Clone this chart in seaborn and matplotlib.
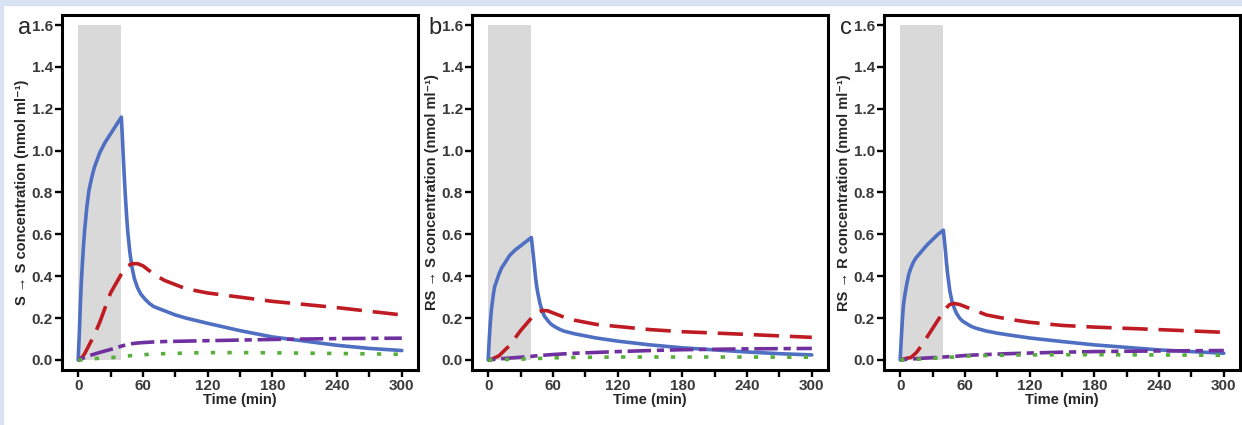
import numpy as np
import pandas as pd
import matplotlib
matplotlib.use("Agg")
import matplotlib.pyplot as plt
import seaborn as sns
from matplotlib.patches import Rectangle

# --- dane ---
# gęstsza siatka czasu dla krzywej niebieskiej (ostry szczyt w 40 min)
czas_gesty = [0, 0.5, 1, 1.5, 2, 3, 4, 5, 6, 8, 10, 12.5, 15, 20, 25, 30, 35, 40, 41, 42, 43, 44, 45,
              46, 48, 50, 52, 55, 58, 62, 66, 70, 80, 90, 100, 120, 150, 180, 210, 240, 270, 300]
czas = [0, 1, 2, 4, 6, 10, 15, 20, 30, 40, 43, 46, 50, 55, 60, 70, 80, 100, 120, 150, 180, 240, 300]

# panel a: S -> S
a_niebieska = [0, 0.06, 0.12, 0.19, 0.26, 0.38, 0.47, 0.55, 0.62, 0.73, 0.81, 0.87, 0.92, 0.99, 1.04,
               1.08, 1.12, 1.16, 1.06, 0.95, 0.85, 0.76, 0.68, 0.61, 0.51, 0.44, 0.39, 0.345, 0.315,
               0.29, 0.27, 0.255, 0.235, 0.215, 0.20, 0.175, 0.14, 0.11, 0.09, 0.07, 0.055, 0.045]
a_czerwona = [0, 0, 0.005, 0.015, 0.03, 0.07, 0.12, 0.18, 0.32, 0.41, 0.43, 0.45, 0.46, 0.46, 0.45,
              0.41, 0.38, 0.34, 0.32, 0.30, 0.28, 0.25, 0.215]
a_fioletowa = [0, 0.001, 0.003, 0.008, 0.012, 0.02, 0.028, 0.036, 0.05, 0.066, 0.07, 0.074, 0.078,
               0.081, 0.083, 0.086, 0.088, 0.09, 0.092, 0.095, 0.098, 0.102, 0.104]
a_zielona = [0, 0, 0, 0.001, 0.002, 0.004, 0.006, 0.008, 0.011, 0.015, 0.017, 0.019, 0.021, 0.023,
             0.025, 0.028, 0.03, 0.033, 0.035, 0.035, 0.034, 0.031, 0.027]

# panel b: RS -> S
b_niebieska = [0, 0.05, 0.1, 0.14, 0.18, 0.24, 0.28, 0.32, 0.35, 0.38, 0.41, 0.44, 0.46, 0.50, 0.525,
               0.545, 0.565, 0.585, 0.54, 0.49, 0.44, 0.39, 0.35, 0.32, 0.27, 0.235, 0.21, 0.19, 0.172,
               0.158, 0.147, 0.138, 0.125, 0.115, 0.105, 0.09, 0.072, 0.058, 0.048, 0.038, 0.03, 0.024]
b_czerwona = [0, 0, 0.002, 0.005, 0.01, 0.02, 0.045, 0.07, 0.14, 0.2, 0.215, 0.228, 0.236, 0.235, 0.225,
              0.205, 0.19, 0.17, 0.16, 0.145, 0.135, 0.122, 0.108]
b_fioletowa = [0, 0, 0.001, 0.002, 0.003, 0.005, 0.007, 0.009, 0.013, 0.017, 0.019, 0.02, 0.022, 0.024,
               0.026, 0.029, 0.032, 0.036, 0.04, 0.045, 0.049, 0.053, 0.055]
b_zielona = [0, 0, 0, 0, 0.001, 0.001, 0.002, 0.003, 0.004, 0.005, 0.006, 0.007, 0.008, 0.009, 0.01,
             0.011, 0.012, 0.013, 0.014, 0.014, 0.014, 0.014, 0.013]

# panel c: RS -> R
c_niebieska = [0, 0.05, 0.1, 0.145, 0.19, 0.26, 0.3, 0.33, 0.36, 0.41, 0.44, 0.47, 0.49, 0.52, 0.55,
               0.575, 0.6, 0.62, 0.57, 0.52, 0.46, 0.41, 0.37, 0.33, 0.28, 0.25, 0.225, 0.2, 0.185,
               0.172, 0.16, 0.152, 0.138, 0.128, 0.12, 0.105, 0.088, 0.072, 0.06, 0.048, 0.04, 0.032]
c_czerwona = [0, 0, 0.002, 0.005, 0.008, 0.012, 0.035, 0.07, 0.15, 0.23, 0.25, 0.265, 0.27, 0.265, 0.255,
              0.235, 0.215, 0.195, 0.18, 0.165, 0.157, 0.145, 0.132]
c_fioletowa = [0, 0, 0.001, 0.002, 0.003, 0.004, 0.006, 0.008, 0.011, 0.014, 0.015, 0.016, 0.017, 0.019,
               0.021, 0.024, 0.026, 0.03, 0.033, 0.037, 0.04, 0.043, 0.045]
c_zielona = [0, 0, 0, 0, 0.001, 0.002, 0.003, 0.005, 0.008, 0.011, 0.012, 0.013, 0.014, 0.016, 0.018,
             0.02, 0.021, 0.023, 0.024, 0.025, 0.025, 0.024, 0.022]

litery = ["a", "b", "c"]
etykiety_y = ["S → S concentration (nmol ml⁻¹)",
              "RS → S concentration (nmol ml⁻¹)",
              "RS → R concentration (nmol ml⁻¹)"]
panele = [
    [a_niebieska, a_czerwona, a_fioletowa, a_zielona],
    [b_niebieska, b_czerwona, b_fioletowa, b_zielona],
    [c_niebieska, c_czerwona, c_fioletowa, c_zielona],
]
serie = ["niebieska", "czerwona", "fioletowa", "zielona"]

# okres wlewu (szary prostokąt)
wlew_start, wlew_koniec, wlew_gora = 0, 40, 1.6

kolory = {"niebieska": "#4E6FC2", "czerwona": "#BF1B22", "fioletowa": "#7030A0", "zielona": "#57AE3B"}
kreski = {"niebieska": "", "czerwona": (7, 3), "fioletowa": (2, 1.6, 6.5, 1.6), "zielona": (1.2, 3.4)}

sns.set_style("ticks")
plt.rcParams["font.family"] = ["Liberation Sans", "DejaVu Sans"]

fig = plt.figure(figsize=(12.42, 4.25), dpi=100)
W, H = 1242, 425

# jasnoniebieska ramka wokół rysunku
fig.patches.append(Rectangle((0, 1 - 5 / H), 1, 5 / H, transform=fig.transFigure,
                             color="#D9E2F2", zorder=0))
fig.patches.append(Rectangle((0, 0), 3 / W, 1, transform=fig.transFigure,
                             color="#D9E2F2", zorder=0))

lewe = [62, 472, 884]
pozycje_liter = [18, 428, 840]

for i in range(3):
    ax = fig.add_axes([lewe[i] / W, (H - 370) / H, 356 / W, 355 / H])
    ramki = []
    for s, wartosci in zip(serie, panele[i]):
        t = czas_gesty if s == "niebieska" else czas
        ramki.append(pd.DataFrame({"czas": t, "stezenie": wartosci, "seria": s}))
    df = pd.concat(ramki, ignore_index=True)

    ax.fill_between([wlew_start, wlew_koniec], 0, wlew_gora, color="#D9D9D9", lw=0, zorder=0)
    sns.lineplot(data=df, x="czas", y="stezenie", hue="seria", style="seria",
                 palette=kolory, dashes=kreski, linewidth=2.6, legend=False,
                 sort=False, errorbar=None, ax=ax, zorder=3)

    ax.set_xlim(-15, 315)
    ax.set_ylim(-0.048, 1.648)
    ax.set_xticks(np.arange(0, 301, 30))
    ax.set_xticklabels([str(t) if t % 60 == 0 else "" for t in range(0, 301, 30)])
    ax.set_yticks(np.arange(0, 1.61, 0.2))
    ax.set_yticklabels([f"{v:.1f}" for v in np.arange(0, 1.61, 0.2)])
    for sp in ax.spines.values():
        sp.set_linewidth(2.2)
        sp.set_color("black")
    ax.tick_params(axis="both", direction="out", length=5, width=1.7, color="black",
                   labelsize=11, labelcolor="#3A3A3A", pad=1.5)
    for lab in ax.get_xticklabels() + ax.get_yticklabels():
        lab.set_fontweight("bold")
    ax.set_xlabel("Time (min)", fontsize=10.5, fontweight="bold", labelpad=0)
    ax.set_ylabel(etykiety_y[i], fontsize=10.5, fontweight="bold", labelpad=2)
    fig.text(pozycje_liter[i] / W, 1 - 34 / H, litery[i], fontsize=17, va="baseline", ha="left")

fig.savefig("out.png", dpi=100)
